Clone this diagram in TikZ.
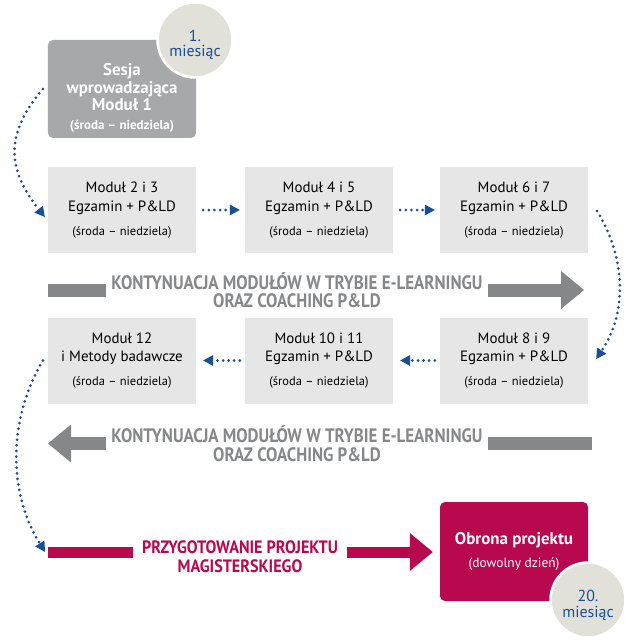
\documentclass[tikz,border=0pt]{standalone}
\usepackage{fontspec}
\setmainfont{PT Sans}
\newfontfamily\condfont[FakeStretch=0.87]{PT Sans}
\newfontfamily\projfont[FakeStretch=0.9]{PT Sans}
\usetikzlibrary{arrows.meta}
\usetikzlibrary{positioning}
\definecolor{boxgray}{HTML}{E6E6E6}
\definecolor{sesgray}{HTML}{A7A8AA}
\definecolor{bargray}{HTML}{868789}
\definecolor{crimson}{HTML}{B8094E}
\definecolor{dotblue}{HTML}{1A4E96}
\definecolor{monthfill}{HTML}{E1E1D9}
\tikzset{modbox/.style = {fill = boxgray, minimum width = 148bp, minimum height = 86bp,
                          inner sep = 0, align = center, font = \fontsize{15}{19}\selectfont}}
\tikzset{sesbox/.style = {fill = sesgray, rounded corners = 5bp, minimum width = 148bp,
                          minimum height = 98bp, inner sep = 0, align = center, text = white,
                          text height = 80bp, text depth = 0bp,
                          font = \bfseries\fontsize{17}{17.5}\selectfont}}
\tikzset{obrbox/.style = {fill = crimson, rounded corners = 5bp, minimum width = 148bp,
                          minimum height = 99bp, inner sep = 0, align = center, text = white,
                          font = \bfseries\fontsize{17}{23}\selectfont}}
\tikzset{month/.style = {circle, fill = monthfill, draw = white, line width = 2.5bp,
                         minimum size = 75bp, inner sep = 0, align = center, text = dotblue,
                         text height = 34bp, text depth = 0bp,
                         font = \fontsize{16}{15.5}\selectfont}}
\tikzset{dots/.style = {draw = dotblue, line width = 3bp, line cap = round,
                        dash pattern = on 0pt off 5.6bp,
                        -{Triangle[length = 10bp, width = 11bp, line width = 0pt]}}}
\tikzset{graybar/.style = {draw = bargray, line width = 13bp}}
\tikzset{graytip/.style = {-{Triangle[length = 23bp, width = 38bp, line width = 0pt]}}}
\tikzset{graytext/.style = {text = bargray, align = center, inner xsep = 5bp, inner ysep = 0,
                            font = \condfont\bfseries\fontsize{19.5}{18.5}\selectfont}}
\tikzset{pinkbar/.style = {draw = crimson, line width = 11bp}}
\tikzset{pinktext/.style = {text = crimson, align = center, inner xsep = 9bp, inner ysep = 0,
                            font = \projfont\bfseries\fontsize{18}{19}\selectfont}}
\newcommand{\days}[1]{\\[5bp]{\fontsize{12.5}{14}\selectfont #1}}

\begin{document}
\begin{tikzpicture}[x = 1bp, y = -1bp]
  \useasboundingbox (0, 0) rectangle (640, 641);
  \node (ses) [sesbox] at (122, 89) {Sesja\\wprowadzająca\\Moduł 1\\[1bp]{\fontsize{13}{14}\selectfont(środa – niedziela)}};
  \node (m23) [modbox] at (122, 210) {Moduł 2 i 3\\Egzamin + P\&LD\days{(środa – niedziela)}};
  \node (m45) [modbox] at (319, 210) {Moduł 4 i 5\\Egzamin + P\&LD\days{(środa – niedziela)}};
  \node (m67) [modbox] at (514, 210) {Moduł 6 i 7\\Egzamin + P\&LD\days{(środa – niedziela)}};
  \node (m12) [modbox] at (122, 360.5) {Moduł 12\\i Metody badawcze\days{(środa – niedziela)}};
  \node (m1011) [modbox] at (319, 360.5) {Moduł 10 i 11\\Egzamin + P\&LD\days{(środa – niedziela)}};
  \node (m89) [modbox] at (514, 360.5) {Moduł 8 i 9\\Egzamin + P\&LD\days{(środa – niedziela)}};
  \node (obr) [obrbox] at (514, 551.5) {Obrona projektu\\{\mdseries\fontsize{13.5}{14}\selectfont(dowolny dzień)}};
  \node (first) [month] at (195, 40) {1.\\miesiąc};
  \node (last) [month] at (588, 600) {20.\\miesiąc};

  % e-learning
  \coordinate (g1a) at (48, 290);
  \coordinate (g1b) at (584, 290);
  \node (k1) [graytext] at (297, 290) {KONTYNUACJA MODUŁÓW W TRYBIE E-LEARNINGU\\ORAZ COACHING P\&LD};
  \draw [graybar] (g1a) -- (g1a -| k1.west);
  \draw [graybar, graytip] (g1a -| k1.east) -- (g1b);
  \coordinate (g2a) at (592, 443.5);
  \coordinate (g2b) at (48, 443.5);
  \node (k2) [graytext] at (297, 443.5) {KONTYNUACJA MODUŁÓW W TRYBIE E-LEARNINGU\\ORAZ COACHING P\&LD};
  \draw [graybar] (g2a) -- (g2a -| k2.east);
  \draw [graybar, graytip] (g2a -| k2.west) -- (g2b);

  % projekt
  \coordinate (p1) at (48, 552);
  \node (pt) [pinktext] at (240, 556.5) {PRZYGOTOWANIE PROJEKTU\\MAGISTERSKIEGO};
  \draw [pinkbar] (p1) -- (p1 -| pt.west);
  \draw [pinkbar, graytip, shorten >= 7bp] (p1 -| pt.east) -- (p1 -| obr.west);

  \draw [dots, shorten <= 7bp, shorten >= 5bp] (m23) -- (m45);
  \draw [dots, shorten <= 7bp, shorten >= 5bp] (m45) -- (m67);
  \draw [dots, shorten <= 5bp, shorten >= 7bp] (m89) -- (m1011);
  \draw [dots, shorten <= 5bp, shorten >= 7bp] (m1011) -- (m12);
  \draw [dots] ([xshift = -5bp]ses.west) .. controls +(-39, 46) and +(-37, -47) .. ([shift = {(-3, 7)}]m23.west);
  \draw [dots] ([shift = {(9, 1)}]m67.east) .. controls +(30, 50) and +(30, -45) .. ([shift = {(8, -1.5)}]m89.east);
  \draw [dots] ([xshift = -5bp]m12.west) .. controls +(-35, 60) and +(-37, -60) .. ([xshift = -3bp]p1);
\end{tikzpicture}
\end{document}
